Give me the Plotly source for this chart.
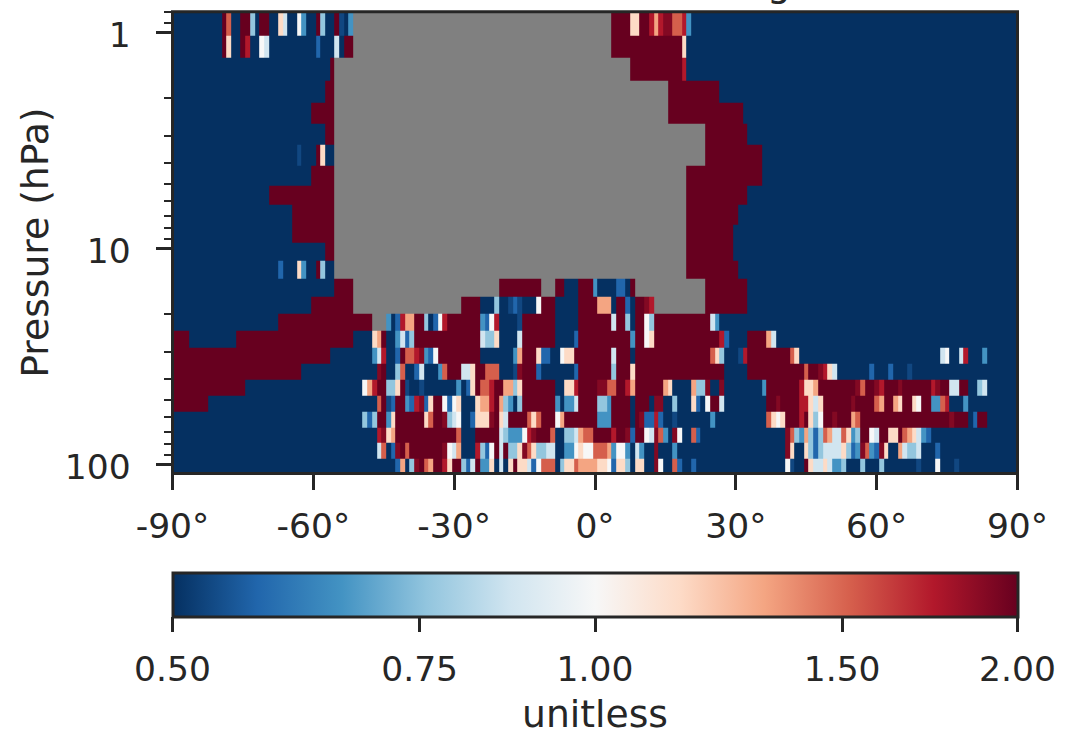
import math
import plotly.graph_objects as go

latitudes = list(range(-90, 91))
pressure_edges = [0.797, 1.032, 1.305, 1.668, 2.109, 2.638, 3.300, 4.128, 5.109, 6.255, 7.743, 9.38,
                  11.36, 13.77, 16.68, 20.0, 23.97, 28.73, 34.07, 40.4, 47.9, 56.8, 67.4, 79.1, 93.8, 109.5]
ratio_levels = {"a": 0.5, "A": 0.53, "b": 0.574, "c": 0.66, "d": 0.76, "e": 0.87, "f": 1.0,
                "g": 1.15, "h": 1.32, "i": 1.52, "j": 1.74, "K": 1.9, "k": 2.0, "n": None}
# one string per pressure band, top to bottom: level letter + latitude column(s); unlisted columns are level "a"
band_cells = [
 "k11 i12 k15-16 d17 k19-20 g23 e24 f27 c28 k31 d32 k35 A36 c38 n39-93 k94-97 g98-99 k100-101 j102 h103 j104 K105-106 i107-108 j109 c110",
 "k11 g12 k15 j16 f19 e20 b31 e35 k37-38 n39-93 k94-108 g109",
 "k34 n35-97 k98-108 j109",
 "k33-34 n35-105 k106-116",
 "k30-34 n35-105 k106-121",
 "k33-34 n35-113 k114-122",
 "A27 k31 g32 n35-113 k114-125",
 "k30-34 n35-109 k110-125",
 "k21-34 n35-109 k110-122",
 "k26-34 n35-109 k110-120",
 "k26-34 n35-109 k110-119",
 "k33-34 n35-109 k110-119",
 "b23 g27 c28 k31 d32 n35-109 k110-120",
 "k35-38 n39-69 k70-78 n79-81 k82-83 k87-89 c90 b95-96 k98 n99-113 k114-122",
 "k30-38 n39-61 k62-65 d69 A72 b73 A74 f78 k79-81 k87-90 h91-93 k95-96 b97 k99-100 K101 j102 n103-113 k114-122",
 "k23-42 n43-45 c46 b48 j49 h50-51 k52-53 d54 b56 f57 j58 k59-65 c66 b67 f68 j69 A74 k75-81 k87-93 e94 k95-96 d97 k99-100 f101 d102 k103-114 e115 c116",
 "k0-3 k14-38 g43 h44 k45 c48 e49 b50 d51 k52-65 e66 d67-68 g69 e74 k75-81 b86 k87-97 c98 k99-100 f101 g102 k103-116 j117 b118 k123-126 h127 e128",
 "k0-33 c43 e44 j45 b48 k49 i50-51 j52 K53 c54 b55 f56 k57-65 c73 h74 k75-77 g78 b79-80 f83 g84-85 k86-93 e94 k95-97 k99-114 i115 g116 d117 A121 j122 k123-131 i132 g133 e164 f165 e168 j169 c173",
 "k0-27 K44 k45 d48 i49 b52 e53 c57 i58 k59-61 e62-63 g64 k65-66 i67-69 A73 K74 k75-77 b78 b86 k87-93 d94 k95-97 g98 k99-117 k123-134 i135 k136-137 K138 j139 g140 e141 b149 b153 A157",
 "k0-15 f41 h42 j43 k44-45 d46-47 g48 k49 A50 A53 c61 b63 g64 k65 i66-67 j68 k69-70 h71-72 d73 g74 k75-81 g84-85 j86 k87-90 K91-92 i93-94 k95-96 j97 h98 k99-104 h105 g106 h111 d112-113 K114 K117 c126 k127-133 j134 g135-136 h137 k138-145 K146 i147 k148-149 K150 j151 k152-154 K155 k156-161 j162 K163 k164-165 e166-167 k168-169 d172 e173",
 "k0-7 i44 k45 A46 b47 k48-49 c50 b51 j52 K53 b54 g55 k56-57 f58 b59 f60 g61 g65 h66-67 j68 k69 h70 d71 c72 d74 k75-81 c82 c84-85 e86 k87-90 d91-92 c93 k94-97 k99-101 K103-104 d107 g111 b112 f114 k115-116 e117 k127-128 K129 k130-133 j134-135 g136 e137 g138 k139-144 K145 k146-149 i150 h151 k152-153 h154 g155 k156-157 g158 f159 k160-161 c162-163 i164 j165 c169",
 "d41 b42 d43 k44-45 c46 g47 k48-53 g54 i55 k56-57 K58 d59 e60 f61 b64 g65-67 K68 k69 g70 e71 k72-75 i76 g77 i78 k79-81 f82 h83 k84-90 c91-93 k94-97 k99 K100 b101-102 j103 b104 A107 c115 i127 g128 f129 g130 k131-133 j134 k135 g136 d137 f138 k139-140 K141 k142-144 h145 i146 k147-165 K166 k167-169 b171 k172-173",
 "j44 K45 g46 h47 k48-60 i61 k65-69 e70 d71 c72-74 f75 j76 K77 k78-80 i81 d84-85 e86 h87 i88-89 k90-93 j94 k95-96 K97 b98 k99-100 f101 e102 K103 i104 c105 K107 f108 i111 b112 K131 i132 d133 c134 h135 d136 b137 d138 i139 h140 e141-142 i143 g144 c145 d146 k147-148 f149 e150 k151-152 g153-154 k155 i156 h157 g158 e159 c160 b161",
 "e44 i45 b47 K48 k49 i50 k51-57 K58 f59 e60 h61 j65 d66 b67 f68 k69 e70 k71 d72-73 g74 K75 i76 g77 d78-79 e80-81 c84-85 f86 g87 f88-89 i90-92 h93 c94 f95-96 c97 e99 c100 K103 c107 K131 g132 g135 d136 b137 d138 e139-142 g143 d144 b145 c146 K147 i148 c149 b150 K151 g152 h155 e156 d157-158 e159 b163",
 "b48 h49 d51 K52 k53 i54 h55 k56-57 j58 g59 k60-61 d62 b63 e64 k65 c66-67 g68 e70 g72 k73 g74-75 e76 b77 f78 i79-81 d83 g84-85 i86 h87-90 g91-92 f93 b94 g95-96 d97 g99-100 K103 f104 i107 b108 b111 f131 A132 k135 g136 e137-138 g139 e140 c141-142 d143 d147 d151 A159 f163 A167",
]
y_tick_values = [1, 10, 100]
y_minor_values = [0.8, 0.9, 2, 3, 4, 5, 6, 7, 8, 9, 20, 30, 40, 50, 60, 70, 80, 90]
x_tick_values = [-90, -60, -30, 0, 30, 60, 90]
x_tick_labels = ["-90°", "-60°", "-30°", "0°", "30°", "60°", "90°"]
cbar_ratios = [0.5, 0.75, 1.0, 1.5, 2.0]
cbar_labels = ["0.50", "0.75", "1.00", "1.50", "2.00"]
rdbu_r = ["#053061", "#2166ac", "#4393c3", "#92c5de", "#d1e5f0", "#f7f7f7",
          "#fddbc7", "#f4a582", "#d6604d", "#b2182b", "#67001f"]


def decode(band):
    cells = [ratio_levels["a"]] * len(latitudes)
    for token in band.split():
        level, span = token[0], token[1:]
        first, _, last = span.partition("-")
        for j in range(int(first), int(last or first) + 1):
            cells[j] = ratio_levels[level]
    return cells


ratios = [decode(b) for b in band_cells]
z = [[None if v is None else math.log2(v) for v in row] for row in ratios]
cbar_z = [math.log2(v) for v in cbar_ratios]

W, H = 1068, 732
INK = "#262626"
FS = 34.5
FS_LABEL = 37.7
FONT = "DejaVu Sans"
L, R, T, B = 172.5, 1017.5, 11.7, 473.5
CB_T, CB_B = 572.5, 616.0

fig = go.Figure(go.Heatmap(
    x=latitudes, y=pressure_edges, z=z,
    zmin=-1, zmax=1,
    colorscale=[[i / 10, c] for i, c in enumerate(rdbu_r)],
    hoverongaps=False,
    colorbar=dict(
        orientation="h", x=L / W, xanchor="left", y=1 - CB_T / H, yanchor="top",
        len=R - L, lenmode="pixels", thickness=CB_B - CB_T, thicknessmode="pixels",
        xpad=0, ypad=0, outlinewidth=3, outlinecolor=INK,
        ticks="", showticklabels=False,
    ),
))
# labelled ratio axis under the colour bar
fig.add_trace(go.Scatter(x=cbar_z, y=[0] * len(cbar_z), xaxis="x2", yaxis="y2", mode="markers",
                         marker=dict(opacity=0), hoverinfo="skip", showlegend=False))
fig.update_layout(
    width=W, height=H, margin=dict(l=0, r=0, t=0, b=0, autoexpand=False),
    paper_bgcolor="white", plot_bgcolor="#808080",
    font=dict(family=FONT, size=FS, color=INK),
    xaxis=dict(
        domain=[L / W, R / W], range=[-90, 90], tickmode="array",
        tickvals=x_tick_values, ticktext=x_tick_labels,
        ticks="outside", ticklen=15, tickwidth=3, tickcolor=INK,
        ticklabelstandoff=7,
        showline=False, showgrid=False, zeroline=False,
    ),
    yaxis=dict(
        domain=[1 - B / H, 1 - T / H], type="log",
        range=[math.log10(pressure_edges[-1]), math.log10(pressure_edges[0])],
        tickmode="array", tickvals=y_tick_values, ticktext=[str(v) for v in y_tick_values],
        ticks="outside", ticklen=16, tickwidth=3, tickcolor=INK,
        ticklabelstandoff=18, ticklabelshift=-2,
        minor=dict(tickmode="array", tickvals=y_minor_values, ticks="outside", ticklen=8, tickwidth=2, tickcolor=INK, showgrid=False),
        showline=False, showgrid=False, zeroline=False,
        title=dict(text="Pressure (hPa)", standoff=4, font=dict(family=FONT, size=FS_LABEL, color=INK)),
    ),
    xaxis2=dict(
        domain=[L / W, R / W], range=[-1, 1], anchor="free", position=1 - CB_B / H, side="bottom",
        tickmode="array", tickvals=cbar_z, ticktext=cbar_labels,
        ticks="outside", ticklen=15, tickwidth=3, tickcolor=INK, ticklabelstandoff=8,
        showline=False, showgrid=False, zeroline=False,
    ),
    yaxis2=dict(domain=[1 - CB_B / H, 1 - CB_T / H], range=[-1, 1], anchor="x2", visible=False),
    shapes=[dict(type="rect", xref="paper", yref="paper", x0=L / W, x1=R / W, y0=1 - B / H, y1=1 - T / H,
                 line=dict(color=INK, width=3), fillcolor="rgba(0,0,0,0)", layer="above")],
    annotations=[
        dict(text="unitless", xref="paper", yref="paper", x=595 / W, y=1 - 714 / H, yanchor="middle", xanchor="center",
             showarrow=False, font=dict(family=FONT, size=FS_LABEL, color=INK)),
        dict(text=",", xref="paper", yref="paper", x=541 / W, y=1, yanchor="bottom", xanchor="center",
             showarrow=False, yshift=-7, font=dict(family=FONT, size=FS_LABEL, color=INK)),
        dict(text="g", xref="paper", yref="paper", x=779 / W, y=1, yanchor="bottom", xanchor="center",
             showarrow=False, yshift=-7, font=dict(family=FONT, size=FS_LABEL, color=INK)),
    ],
)
fig.write_html("out.html", config={"displayModeBar": False}, post_script="document.body.style.margin='0';")
